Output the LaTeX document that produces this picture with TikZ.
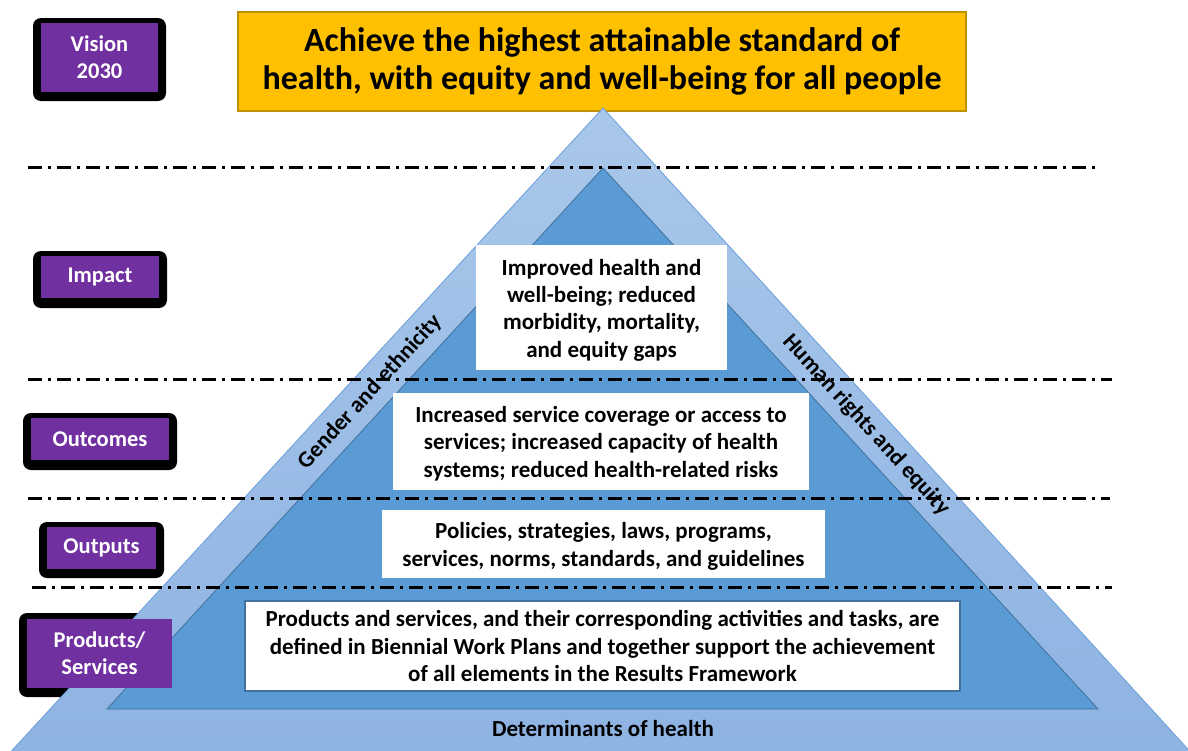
\documentclass[tikz,border=0pt]{standalone}
\usepackage{fontspec}
\setmainfont{Carlito}
\definecolor{titleyellow}{HTML}{FFC000}
\definecolor{titleborder}{HTML}{BF9000}
\definecolor{lvlpurple}{HTML}{7030A0}
\definecolor{outertop}{HTML}{A9C7EA}
\definecolor{outerbot}{HTML}{8DB3E2}
\definecolor{outeredge}{HTML}{6A9FD8}
\definecolor{innerblue}{HTML}{5B9BD5}
\definecolor{inneredge}{HTML}{41719C}
\begin{document}
\begin{tikzpicture}[x=1pt,y=-1pt,
  lvlshadow/.style={fill=black, rounded corners=8pt},
  lvlbox/.style={fill=lvlpurple, text=white, align=center, inner sep=0pt,
     font=\bfseries\fontsize{22.5}{27}\selectfont},
  whitebox/.style={fill=white, align=center, inner sep=0pt,
     font=\bfseries\fontsize{23}{27.3}\selectfont},
  bandtext/.style={font=\bfseries\fontsize{23}{26}\selectfont, inner sep=0pt},
  levelline/.style={line width=3pt, dash pattern=on 14pt off 6pt on 3pt off 6pt}
]
\useasboundingbox (0,0) rectangle (1188,750);
\clip (0,0) rectangle (1188,750);
% title
\node[fill=titleyellow, draw=titleborder, line width=1.2pt, minimum width=728pt, minimum height=99pt,
      align=center, inner sep=0pt, font=\bfseries\fontsize{34}{38}\selectfont] (title) at (602,61.5)
      {Achieve the highest attainable standard of\\health, with equity and well-being for all people};
% black shadows of level labels
\fill[lvlshadow] (33,18) rectangle (166,101);
\fill[lvlshadow] (33,251) rectangle (167,308);
\fill[lvlshadow] (23,413) rectangle (177,470);
\fill[lvlshadow] (39,522) rectangle (164,578);
\fill[lvlshadow] (19,613) rectangle (180,697);
% outer triangle
\shade[top color=outertop, bottom color=outerbot] (603,108) -- (1207,770) -- (-6,770) -- cycle;
\draw[outeredge, line width=0.8pt] (-6,770) -- (603,108) -- (1207,770);
% inner triangle
\fill[innerblue] (603,168) -- (1098,709) -- (107,709) -- cycle;
\draw[inneredge, line width=0.8pt] (603,168) -- (1098,709) -- (107,709) -- cycle;
% level lines
\draw[levelline] (28,167) -- (1100,167);
\draw[levelline] (28,379) -- (1112,379);
\draw[levelline] (28,498) -- (1110,498);
\draw[levelline] (32,587) -- (1112,587);
% level labels
\node[lvlbox, minimum width=117pt, minimum height=69pt] (vision) at (99.5,57.5) {Vision\\2030};
\node[lvlbox, minimum width=118pt, minimum height=42pt] (impact) at (100,277) {Impact};
\node[lvlbox, minimum width=138pt, minimum height=42pt] (outcomes) at (100,439) {Outcomes};
\node[lvlbox, minimum width=109pt, minimum height=42pt] (outputs) at (101.5,548) {Outputs};
\node[lvlbox, minimum width=145pt, minimum height=69pt] (products) at (99.5,653.5) {Products/\\Services};
% content boxes
\node[whitebox, minimum width=251pt, minimum height=125pt] (impactbox) at (601.5,307.5)
  {\rule{0pt}{21pt}Improved health and\\well-being; reduced\\morbidity, mortality,\\and equity gaps};
\node[whitebox, minimum width=416pt, minimum height=97pt] (outcomesbox) at (601,441.5)
  {\rule{0pt}{20pt}Increased service coverage or access to\\services; increased capacity of health\\systems; reduced health-related risks};
\node[whitebox, minimum width=443pt, minimum height=68pt] (outputsbox) at (603.5,544)
  {\rule{0pt}{21pt}Policies, strategies, laws, programs,\\services, norms, standards, and guidelines};
\node[whitebox, draw=inneredge, line width=1.2pt, minimum width=715pt, minimum height=90pt] (productsbox) at (602.5,646)
  {Products and services, and their corresponding activities and tasks, are\\defined in Biennial Work Plans and together support the achievement\\of all elements in the Results Framework};
% band texts
\node[bandtext, rotate=47.5] (gender) at (370,392) {Gender and ethnicity};
\node[bandtext, rotate=-47.5] (rights) at (866,425) {Human rights and equity};
\node[bandtext] (determinants) at (603,729) {Determinants of health};
\end{tikzpicture}
\end{document}
